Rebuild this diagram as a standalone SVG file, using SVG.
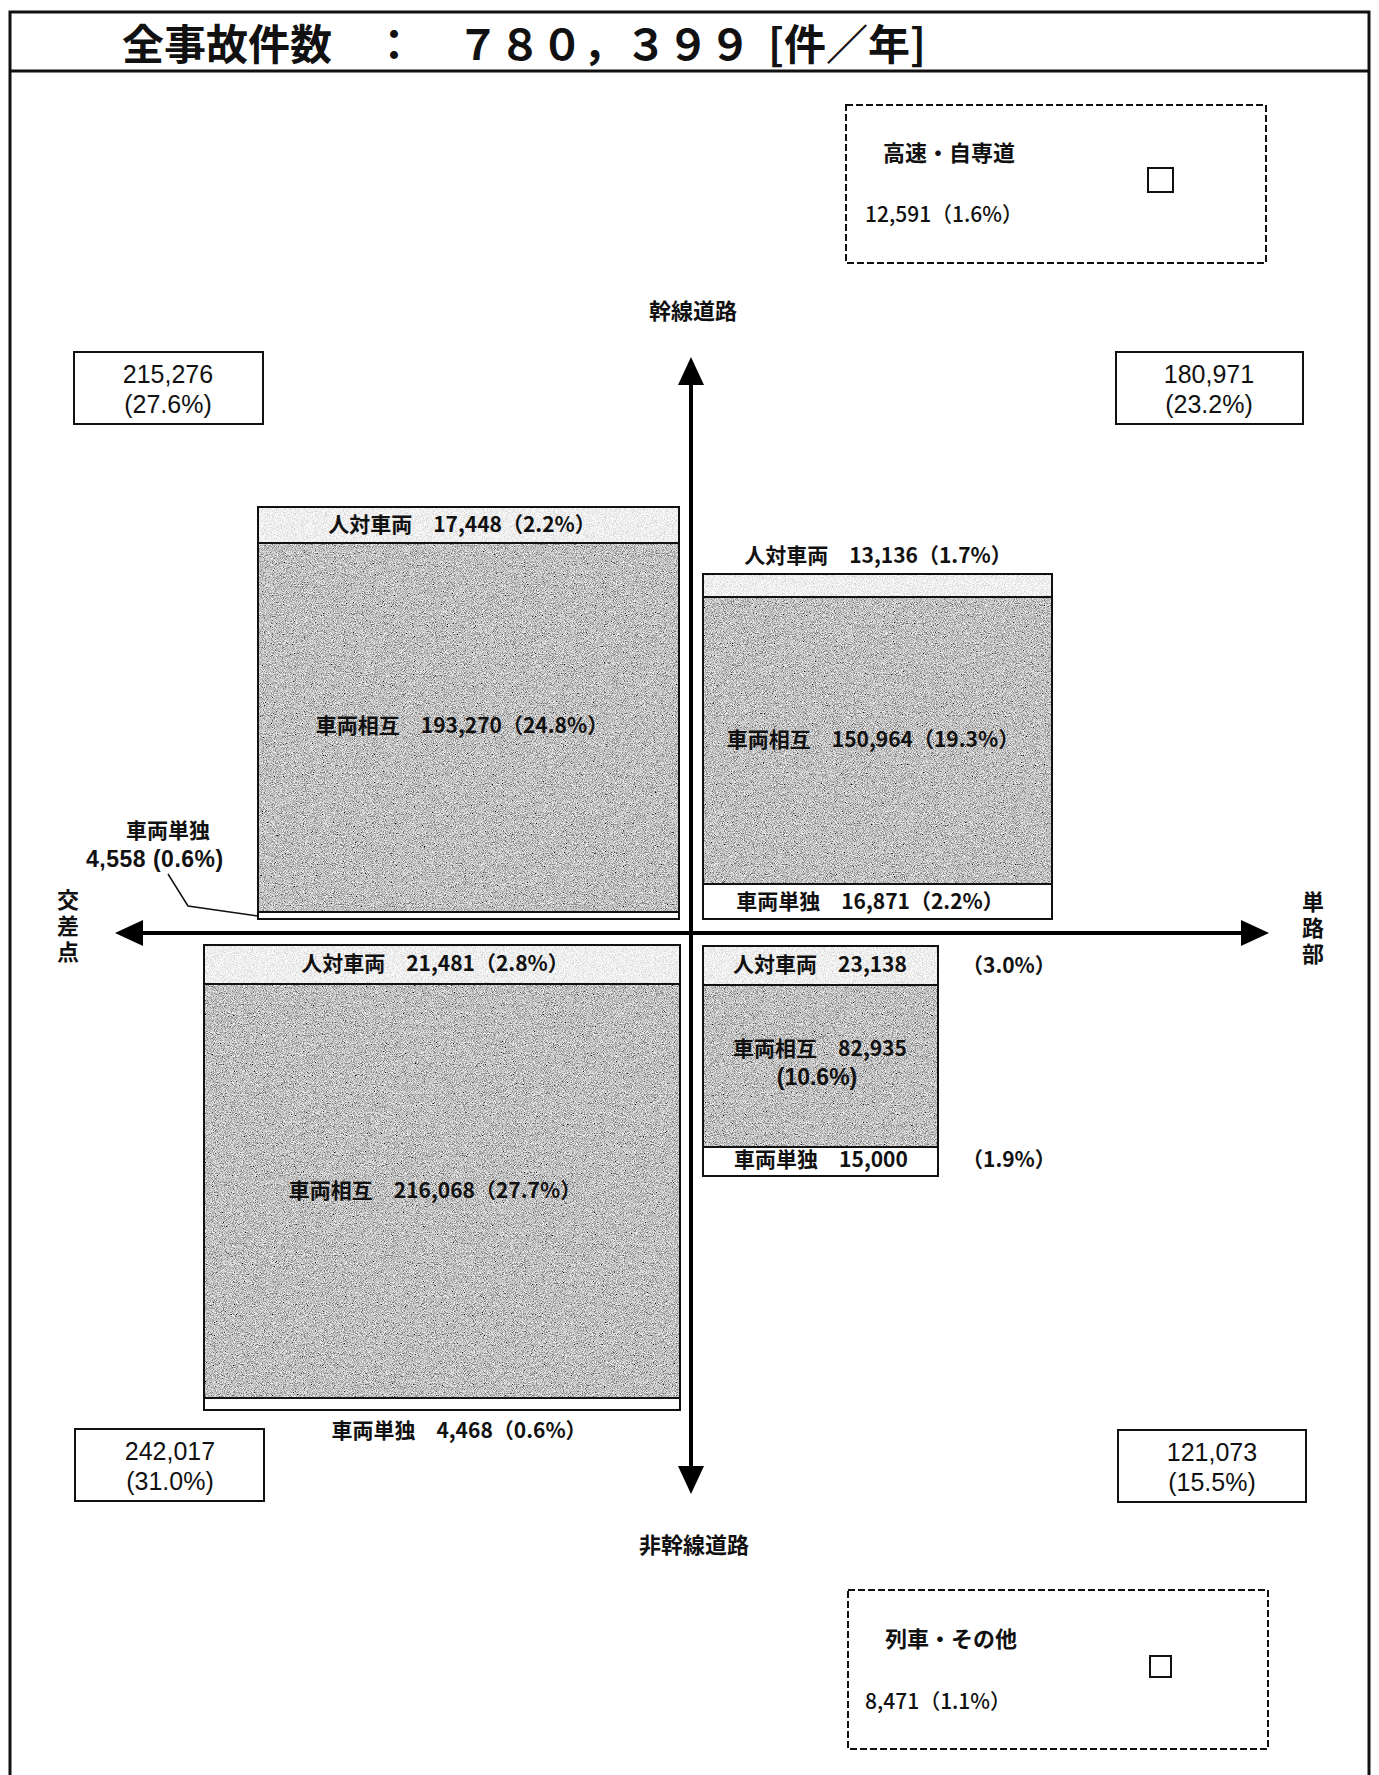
<svg xmlns="http://www.w3.org/2000/svg" width="1379" height="1775" viewBox="0 0 1379 1775">
<style>
text{font-family:"Noto Sans CJK JP","Noto Sans",sans-serif;fill:#111}
.t{font-size:42px;font-weight:700}
.lb{font-size:21px;font-weight:700}
.ax{font-size:22px;font-weight:700}
.vt{font-size:22px;font-weight:700;writing-mode:vertical-rl;letter-spacing:4px}
.num{font-size:25px;font-family:"Liberation Sans",Arial,sans-serif}
.lat{font-family:"Liberation Sans",Arial,sans-serif;font-size:23px;font-weight:700}
.sm{font-size:21px;font-weight:500}
.m{text-anchor:middle}
.box{fill:#fff;stroke:#111;stroke-width:2}
.dash{fill:none;stroke:#111;stroke-width:2;stroke-dasharray:7 3}
.edge{fill:none;stroke:#111;stroke-width:2}
.axis{stroke:#000;stroke-width:4;fill:none}
</style>
<defs>
<filter id="dark" x="0" y="0" width="1" height="1">
<feTurbulence type="fractalNoise" baseFrequency="1.1" numOctaves="2" seed="7" result="t"/>
<feColorMatrix in="t" type="matrix" values="1.6 0 0 0 -0.27  1.6 0 0 0 -0.27  1.6 0 0 0 -0.27  0 0 0 0 1" result="g"/>
<feComposite in="g" in2="SourceGraphic" operator="in"/>
</filter>
<filter id="light" x="0" y="0" width="1" height="1">
<feTurbulence type="fractalNoise" baseFrequency="1.1" numOctaves="2" seed="3" result="t"/>
<feColorMatrix in="t" type="matrix" values="0.8 0 0 0 0.46  0.8 0 0 0 0.46  0.8 0 0 0 0.46  0 0 0 0 1" result="g"/>
<feComposite in="g" in2="SourceGraphic" operator="in"/>
</filter>
<marker id="ah" viewBox="0 0 28 26" refX="8" refY="13" markerWidth="28" markerHeight="26" markerUnits="userSpaceOnUse" orient="auto-start-reverse">
<path d="M0,0 L28,13 L0,26 z" fill="#000"/>
</marker>
</defs>
<rect width="1379" height="1775" fill="#fff"/>

<g id="frame">
<rect x="10" y="12" width="1359" height="1780" fill="none" stroke="#111" stroke-width="3"/>
<line x1="10" y1="71" x2="1369" y2="71" stroke="#111" stroke-width="3"/>
<text class="t" x="122" y="60">全事故件数</text>
<text class="t m" x="394" y="60">：</text>
<text class="t" x="457" y="60">７８０，３９９</text>
<text class="t" x="768" y="60">[件／年]</text>
</g>

<g id="connectors">
<line class="axis" x1="691" y1="1474" x2="691" y2="377" marker-start="url(#ah)" marker-end="url(#ah)"/>
<line class="axis" x1="135" y1="933" x2="1249" y2="933" marker-start="url(#ah)" marker-end="url(#ah)"/>
<polyline points="168,874 188,906 258,916" fill="none" stroke="#111" stroke-width="1.5"/>
</g>

<g id="highway">
<rect class="dash" x="846" y="105" width="420" height="158"/>
<text class="ax" x="883" y="161">高速・自専道</text>
<text class="sm" x="865" y="222">12,591（1.6%）</text>
<rect x="1148" y="168" width="25" height="24" fill="none" stroke="#111" stroke-width="2"/>
</g>

<g id="train">
<rect class="dash" x="848" y="1590" width="420" height="159"/>
<text class="ax" x="885" y="1647">列車・その他</text>
<text class="sm" x="865" y="1709">8,471（1.1%）</text>
<rect x="1150" y="1656" width="21" height="21" fill="none" stroke="#111" stroke-width="2"/>
</g>

<g id="axis-labels">
<text class="ax m" x="693" y="319">幹線道路</text>
<text class="ax m" x="694" y="1553">非幹線道路</text>
<text class="vt" x="68" y="889">交差点</text>
<text class="vt" x="1313" y="891">単路部</text>
</g>

<g id="total-ul">
<rect class="box" x="74" y="352" width="189" height="72"/>
<text class="num m" x="168" y="383">215,276</text>
<text class="num m" x="168" y="413">(27.6%)</text>
</g>
<g id="total-ur">
<rect class="box" x="1116" y="352" width="187" height="72"/>
<text class="num m" x="1209" y="383">180,971</text>
<text class="num m" x="1209" y="413">(23.2%)</text>
</g>
<g id="total-ll">
<rect class="box" x="75" y="1429" width="189" height="72"/>
<text class="num m" x="170" y="1460">242,017</text>
<text class="num m" x="170" y="1490">(31.0%)</text>
</g>
<g id="total-lr">
<rect class="box" x="1118" y="1430" width="188" height="72"/>
<text class="num m" x="1212" y="1461">121,073</text>
<text class="num m" x="1212" y="1491">(15.5%)</text>
</g>

<g id="block-ul">
<rect x="258" y="507" width="421" height="36" fill="#fff" filter="url(#light)"/>
<rect x="258" y="543" width="421" height="369" fill="#fff" filter="url(#dark)"/>
<rect class="edge" x="258" y="507" width="421" height="412"/>
<line class="edge" x1="258" y1="543" x2="679" y2="543"/>
<line class="edge" x1="258" y1="912" x2="679" y2="912"/>
<text class="lb m" x="462" y="532">人対車両　17,448（2.2%）</text>
<text class="lb m" x="462" y="733">車両相互　193,270（24.8%）</text>
</g>
<g id="label-ul-single">
<text class="lb m" x="168" y="838">車両単独</text>
<text class="lat" x="86" y="867" letter-spacing="0.5">4,558  (0.6%)</text>
</g>

<g id="block-ur">
<text class="lb m" x="878" y="563">人対車両　13,136（1.7%）</text>
<rect x="703" y="574" width="349" height="23" fill="#fff" filter="url(#light)"/>
<rect x="703" y="597" width="349" height="287" fill="#fff" filter="url(#dark)"/>
<rect class="edge" x="703" y="574" width="349" height="345"/>
<line class="edge" x1="703" y1="597" x2="1052" y2="597"/>
<line class="edge" x1="703" y1="884" x2="1052" y2="884"/>
<text class="lb m" x="873" y="747">車両相互　150,964（19.3%）</text>
<text class="lb m" x="870" y="909">車両単独　16,871（2.2%）</text>
</g>

<g id="block-ll">
<rect x="204" y="945" width="476" height="39" fill="#fff" filter="url(#light)"/>
<rect x="204" y="984" width="476" height="414" fill="#fff" filter="url(#dark)"/>
<rect class="edge" x="204" y="945" width="476" height="465"/>
<line class="edge" x1="204" y1="984" x2="680" y2="984"/>
<line class="edge" x1="204" y1="1398" x2="680" y2="1398"/>
<text class="lb m" x="435" y="971">人対車両　21,481（2.8%）</text>
<text class="lb m" x="435" y="1198">車両相互　216,068（27.7%）</text>
<text class="lb m" x="459" y="1438">車両単独　4,468（0.6%）</text>
</g>

<g id="block-lr">
<rect x="703" y="946" width="235" height="39" fill="#fff" filter="url(#light)"/>
<rect x="703" y="985" width="235" height="162" fill="#fff" filter="url(#dark)"/>
<rect class="edge" x="703" y="946" width="235" height="230"/>
<line class="edge" x1="703" y1="985" x2="938" y2="985"/>
<line class="edge" x1="703" y1="1147" x2="938" y2="1147"/>
<text class="lb m" x="820" y="972">人対車両　23,138</text>
<text class="lb" x="962" y="973">（3.0%）</text>
<text class="lb m" x="820" y="1056">車両相互　82,935</text>
<text class="lat m" x="817" y="1085">(10.6%)</text>
<text class="lb m" x="821" y="1167">車両単独　15,000</text>
<text class="lb" x="962" y="1167">（1.9%）</text>
</g>
</svg>
